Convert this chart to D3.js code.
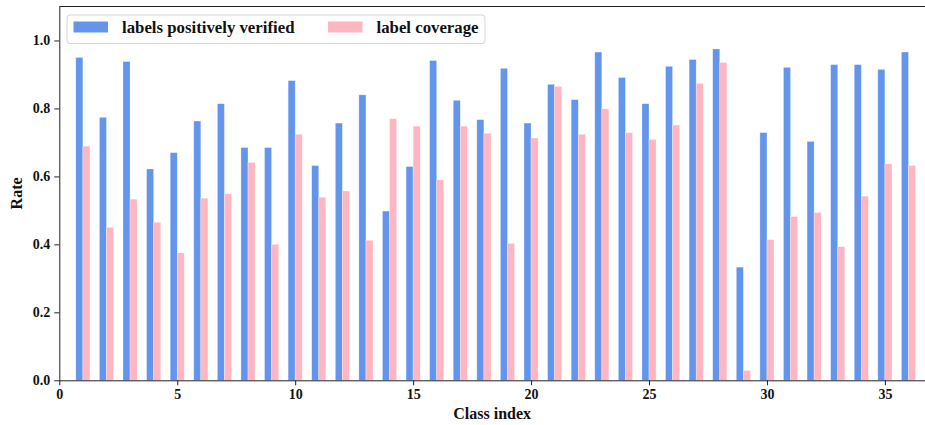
<!DOCTYPE html>
<html>
<head>
    <style>
        body { margin: 0; background: #fff; }
        text { font-family: "Liberation Serif", "Times New Roman", serif; font-weight: bold; fill: #111; }
        .axis path, .axis line { stroke: #222; }
    </style>
    <script src="https://d3js.org/d3.v7.min.js"></script>
</head>
<body>
    <svg width="925" height="425"></svg>
    <script>
        // class indices and the two rates
        var classes = d3.range(1, 37);
        var verified = [0.950, 0.774, 0.938, 0.622, 0.670, 0.763, 0.814, 0.685, 0.685, 0.882,
                        0.632, 0.757, 0.840, 0.498, 0.629, 0.941, 0.824, 0.767, 0.918, 0.757,
                        0.871, 0.826, 0.966, 0.891, 0.814, 0.924, 0.944, 0.975, 0.333, 0.729,
                        0.921, 0.703, 0.929, 0.929, 0.915, 0.966];
        var coverage = [0.689, 0.450, 0.533, 0.465, 0.375, 0.536, 0.549, 0.641, 0.400, 0.724,
                        0.539, 0.557, 0.412, 0.770, 0.748, 0.590, 0.748, 0.727, 0.403, 0.713,
                        0.865, 0.724, 0.799, 0.729, 0.709, 0.751, 0.874, 0.935, 0.029, 0.414,
                        0.482, 0.494, 0.393, 0.542, 0.637, 0.632];
        var xTicks = [0, 5, 10, 15, 20, 25, 30, 35];
        var yTicks = [0, 0.2, 0.4, 0.6, 0.8, 1.0];
        var seriesNames = ["labels positively verified", "label coverage"];
        var colors = ["#6495ED", "#FFB6C1"];

        var svg = d3.select("svg"),
            mLeft = 59.3, mRight = 925, mTop = 6.5, mBottom = 380.3;

        var x = d3.scaleLinear().domain([0, 36.7]).range([mLeft, mRight]);
        var y = d3.scaleLinear().domain([0, 1.1]).range([mBottom, mTop]);
        var barW = 0.3;

        var bars = svg.append("g");
        [verified, coverage].forEach(function(vals, s) {
            bars.selectAll(".b" + s)
                .data(classes)
                .enter().append("rect")
                .attr("x", function(d) { return x(s === 0 ? d - barW : d); })
                .attr("width", x(barW) - x(0))
                .attr("y", function(d, i) { return y(vals[i]); })
                .attr("height", function(d, i) { return y(0) - y(vals[i]); })
                .attr("fill", colors[s])
                .attr("stroke", "rgba(255,255,255,0.5)")
                .attr("stroke-width", 0.6);
        });

        svg.append("g")
           .attr("class", "axis")
           .attr("transform", "translate(0," + mBottom + ")")
           .call(d3.axisBottom(x).tickValues(xTicks).tickFormat(d3.format("d"))
                   .tickSize(5).tickSizeOuter(0).tickPadding(4))
           .call(function(g) { g.selectAll("text").style("font-size", "14px"); });

        svg.append("g")
           .attr("class", "axis")
           .attr("transform", "translate(" + mLeft + ",0)")
           .call(d3.axisLeft(y).tickValues(yTicks).tickFormat(d3.format(".1f"))
                   .tickSize(5).tickSizeOuter(0).tickPadding(4))
           .call(function(g) { g.selectAll("text").style("font-size", "14px"); });

        // top spine (right edge is cropped in the original)
        svg.append("line")
           .attr("x1", mLeft).attr("x2", mRight)
           .attr("y1", mTop).attr("y2", mTop)
           .attr("stroke", "#222");

        svg.append("text")
           .attr("x", (mLeft + mRight) / 2)
           .attr("y", 419)
           .attr("text-anchor", "middle")
           .style("font-size", "16px")
           .text("Class index");

        svg.append("text")
           .attr("transform", "translate(22," + (mTop + mBottom) / 2 + ") rotate(-90)")
           .attr("text-anchor", "middle")
           .style("font-size", "16px")
           .text("Rate");

        // legend
        var lg = svg.append("g");
        lg.append("rect")
          .attr("x", 67).attr("y", 15)
          .attr("width", 418).attr("height", 28.5)
          .attr("rx", 3)
          .attr("fill", "rgba(255,255,255,0.8)")
          .attr("stroke", "#d6d6d6");
        var lx = [73.5, 328];
        seriesNames.forEach(function(name, i) {
            lg.append("rect")
              .attr("x", lx[i]).attr("y", 21.5)
              .attr("width", 34.5).attr("height", 11)
              .attr("fill", colors[i]);
            lg.append("text")
              .attr("x", lx[i] + 48.5).attr("y", 33)
              .style("font-size", "16.8px")
              .text(name);
        });
    </script>
</body>
</html>
